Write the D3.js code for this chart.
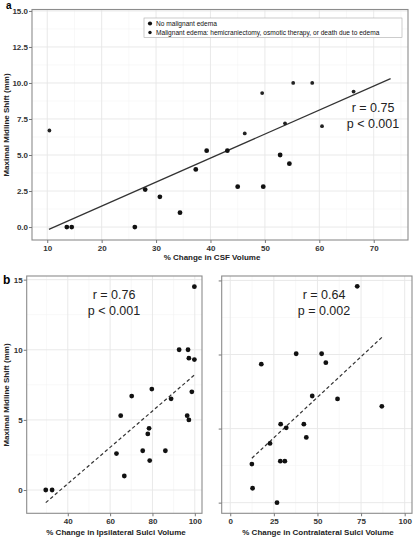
<!DOCTYPE html>
<html>
<head>
  <script src="https://cdn.jsdelivr.net/npm/d3@7"></script>
  <style>
    body { margin: 0; background: #fff; font-family: "Liberation Sans", Arial, sans-serif; }
  </style>
</head>
<body>
  <div id="chart"></div>
  <script>
    // panel a: CSF volume change vs midline shift
    const csfX = [10.4, 13.6, 14.5, 26.1, 28.0, 30.7, 34.4, 37.3, 39.3, 43.1, 45.0, 46.3, 49.5, 49.7, 52.8, 53.7, 54.5, 55.2, 58.7, 60.5, 66.3];
    const csfY = [6.7, 0, 0, 0, 2.6, 2.1, 1.0, 4.0, 5.3, 5.3, 2.8, 6.5, 9.3, 2.8, 5.0, 7.2, 4.4, 10.0, 10.0, 7.0, 9.4];
    const csfGroup = [1, 0, 0, 0, 0, 0, 0, 0, 0, 0, 0, 1, 1, 0, 0, 1, 0, 1, 1, 1, 1];
    const csfFit = [[10.3, -0.16], [73.1, 10.3]];

    // panel b left: ipsilateral sulci
    const ipsiX = [99.8, 92.6, 96.8, 97.2, 99.8, 88.8, 98.6, 79.7, 70.2, 65.0, 96.4, 97.2, 78.4, 77.8, 63.0, 75.4, 86.1, 78.7, 66.7, 29.6, 32.6];
    const ipsiY = [14.5, 10.0, 10.0, 9.4, 9.3, 6.5, 7.0, 7.2, 6.7, 5.3, 5.3, 5.0, 4.4, 4.0, 2.6, 2.8, 2.8, 2.1, 1.0, 0, 0];
    const ipsiFit = [[29.6, -0.9], [99.8, 8.2]];

    // panel b right: contralateral sulci
    const contraX = [72.8, 37.8, 52.4, 54.8, 17.8, 47.0, 61.5, 86.9, 28.9, 42.2, 32.1, 43.6, 22.8, 28.7, 31.3, 12.4, 12.8, 26.8];
    const contraY = [14.6, 10.05, 10.05, 9.45, 9.35, 7.2, 7.0, 6.5, 5.3, 5.3, 5.05, 4.4, 4.0, 2.8, 2.8, 2.6, 0.97, 0];
    const contraFit = [[12.4, 3.0], [87.3, 11.2]];

    const legendLabels = ["No malignant edema", "Malignant edema: hemicraniectomy, osmotic therapy, or death due to edema"];

    const W = 415, H = 537;
    const svg = d3.select("#chart").append("svg").attr("width", W).attr("height", H);

    function panel(o) {
      const x = d3.scaleLinear().domain(o.xDomain).range([o.left, o.right]);
      const y = d3.scaleLinear().domain(o.yDomain).range([o.bottom, o.top]);
      const g = svg.append("g");

      // minor grid
      g.selectAll(".mx").data(o.xMinor).join("line")
        .attr("x1", d => x(d)).attr("x2", d => x(d)).attr("y1", o.top).attr("y2", o.bottom)
        .attr("stroke", "#f4f4f4").attr("stroke-width", 0.6);
      g.selectAll(".my").data(o.yMinor).join("line")
        .attr("y1", d => y(d)).attr("y2", d => y(d)).attr("x1", o.left).attr("x2", o.right)
        .attr("stroke", "#f4f4f4").attr("stroke-width", 0.6);
      // major grid
      g.selectAll(".gx").data(o.xTicks).join("line")
        .attr("x1", d => x(d)).attr("x2", d => x(d)).attr("y1", o.top).attr("y2", o.bottom)
        .attr("stroke", "#e6e6e6").attr("stroke-width", 0.9);
      g.selectAll(".gy").data(o.yTicks).join("line")
        .attr("y1", d => y(d)).attr("y2", d => y(d)).attr("x1", o.left).attr("x2", o.right)
        .attr("stroke", "#e6e6e6").attr("stroke-width", 0.9);

      // fit line
      g.append("line")
        .attr("x1", x(o.fit[0][0])).attr("y1", y(o.fit[0][1]))
        .attr("x2", x(o.fit[1][0])).attr("y2", y(o.fit[1][1]))
        .attr("stroke", "#333").attr("stroke-width", 1.2)
        .attr("stroke-dasharray", o.dashed ? "3.5,2.5" : null);

      // points
      g.selectAll("circle").data(o.xs).join("circle")
        .attr("cx", d => x(d)).attr("cy", (d, i) => y(o.ys[i]))
        .attr("r", (d, i) => o.groups && o.groups[i] ? 1.9 : 2.4)
        .attr("fill", (d, i) => o.groups && o.groups[i] ? "#222" : "#111");

      // border
      g.append("rect").attr("x", o.left).attr("y", o.top)
        .attr("width", o.right - o.left).attr("height", o.bottom - o.top)
        .attr("fill", "none").attr("stroke", "#8c8c8c").attr("stroke-width", 1.1);

      // axes
      const ax = g.append("g").attr("transform", `translate(0,${o.bottom})`)
        .call(d3.axisBottom(x).tickValues(o.xTicks).tickSize(3).tickPadding(2).tickFormat(d3.format("d")));
      const ay = g.append("g").attr("transform", `translate(${o.left},0)`)
        .call(d3.axisLeft(y).tickValues(o.yTicks).tickSize(3).tickPadding(1)
          .tickFormat(o.yLabels ? o.yFormat : () => ""));
      [ax, ay].forEach(a => {
        a.select(".domain").remove();
        a.selectAll(".tick line").attr("stroke", "#777");
        a.selectAll("text").attr("fill", "#333").style("font-size", "8px").style("font-weight", "bold")
          .style("font-family", "'Liberation Sans', Arial, sans-serif");
      });

      // annotation
      o.stats.forEach((s, i) => {
        g.append("text").attr("x", o.statX).attr("y", o.statY + i * 15.5)
          .attr("text-anchor", "middle").attr("fill", "#222")
          .style("font-size", "12.5px").text(s);
      });

      // x title
      g.append("text").attr("x", o.xTitleX).attr("y", o.xTitleY)
        .attr("text-anchor", "middle").attr("fill", "#222")
        .style("font-size", "8px").style("font-weight", "bold").text(o.xTitle);
      if (o.yTitle) {
        g.append("text").attr("transform", `translate(9,${o.yTitleY}) rotate(-90)`)
          .attr("text-anchor", "middle").attr("fill", "#222")
          .style("font-size", "8px").style("font-weight", "bold").text(o.yTitle);
      }
      return { x, y, g };
    }

    const pa = panel({
      left: 32, right: 408, top: 9.5, bottom: 240,
      xDomain: [7.2, 76.3], yDomain: [-0.9, 15.1],
      xTicks: [10, 20, 30, 40, 50, 60, 70], yTicks: [0, 2.5, 5, 7.5, 10, 12.5, 15],
      xMinor: [15, 25, 35, 45, 55, 65, 75], yMinor: [1.25, 3.75, 6.25, 8.75, 11.25, 13.75],
      yLabels: true, yFormat: d3.format(".1f"),
      xs: csfX, ys: csfY, groups: csfGroup, fit: csfFit, dashed: false,
      stats: ["r = 0.75", "p < 0.001"], statX: 373, statY: 112,
      xTitle: "% Change in CSF Volume", xTitleX: 212, xTitleY: 260,
      yTitle: "Maximal Midline Shift (mm)", yTitleY: 125
    });

    panel({
      left: 26.7, right: 202, top: 276, bottom: 513.3,
      xDomain: [20.6, 103.4], yDomain: [-1.66, 15.26],
      xTicks: [40, 60, 80, 100], yTicks: [0, 5, 10, 15],
      xMinor: [30, 50, 70, 90], yMinor: [2.5, 7.5, 12.5],
      yLabels: true, yFormat: d3.format("d"),
      xs: ipsiX, ys: ipsiY, fit: ipsiFit, dashed: true,
      stats: ["r = 0.76", "p < 0.001"], statX: 114, statY: 299,
      xTitle: "% Change in Ipsilateral Sulci Volume", xTitleX: 116, xTitleY: 535,
      yTitle: "Maximal Midline Shift (mm)", yTitleY: 395
    });

    panel({
      left: 221.7, right: 412, top: 276, bottom: 513.3,
      xDomain: [-4.9, 104.2], yDomain: [-0.72, 15.3],
      xTicks: [0, 25, 50, 75, 100], yTicks: [0, 5, 10, 15],
      xMinor: [12.5, 37.5, 62.5, 87.5], yMinor: [2.5, 7.5, 12.5],
      yLabels: false,
      xs: contraX, ys: contraY, fit: contraFit, dashed: true,
      stats: ["r = 0.64", "p = 0.002"], statX: 324, statY: 299,
      xTitle: "% Change in Contralateral Sulci Volume", xTitleX: 318, xTitleY: 535
    });

    // panel letters
    svg.append("text").attr("x", 6).attr("y", 9).style("font-size", "10px").style("font-weight", "bold").text("a");
    svg.append("text").attr("x", 3).attr("y", 284).style("font-size", "12px").style("font-weight", "bold").text("b");

    // legend
    const lg = svg.append("g").attr("transform", "translate(144,18)");
    lg.append("rect").attr("width", 258).attr("height", 19.5)
      .attr("fill", "#fff").attr("stroke", "#aaa").attr("stroke-width", 0.6);
    lg.selectAll("circle").data(legendLabels).join("circle")
      .attr("cx", 6).attr("cy", (d, i) => 5.5 + i * 9)
      .attr("r", (d, i) => i ? 1.7 : 2.1).attr("fill", "#111");
    lg.selectAll("text").data(legendLabels).join("text")
      .attr("x", 12).attr("y", (d, i) => 8 + i * 9)
      .attr("fill", "#111").style("font-size", "6.6px").text(d => d);
  </script>
</body>
</html>
